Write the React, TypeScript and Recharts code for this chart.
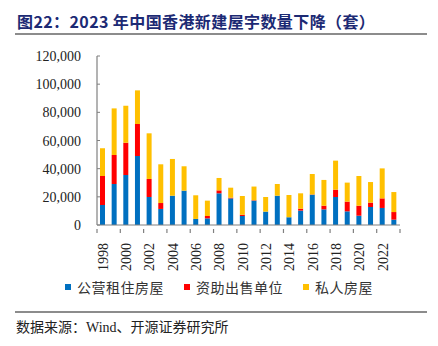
import { BarChart, Bar, XAxis, YAxis } from "recharts";

const years = [
  "1998", "1999", "2000", "2001", "2002", "2003", "2004", "2005", "2006",
  "2007", "2008", "2009", "2010", "2011", "2012", "2013", "2014", "2015",
  "2016", "2017", "2018", "2019", "2020", "2021", "2022", "2023",
];

// 公营租住房屋
const publicRental = [
  14200, 29100, 35500, 49000, 19900, 11400, 20800, 24400, 4300,
  4700, 22500, 18900, 6400, 17300, 9500, 20800, 5500, 10200,
  21500, 11100, 19900, 9700, 6600, 12800, 12100, 3800,
];

// 资助出售单位
const subsidised = [
  20600, 20600, 22900, 22700, 12800, 4200, 0, 0, 0,
  1700, 2100, 500, 900, 300, 0, 0, 0, 1400,
  200, 2600, 5200, 6900, 7100, 3100, 6800, 5400,
];

// 私人房屋
const privateHousing = [
  19700, 33100, 26300, 23900, 32400, 27500, 26100, 17300, 16800,
  10900, 8800, 7100, 13300, 9700, 10400, 8300, 15800, 10900,
  14500, 18300, 20600, 13500, 21100, 14600, 21300, 14200,
];

const yTicks = [0, 20000, 40000, 60000, 80000, 100000, 120000];

const data = years.map((y, i) => ({
  year: y,
  publicRental: publicRental[i],
  subsidised: subsidised[i],
  privateHousing: privateHousing[i],
}));

const AXIS = "#808080";
const BAND = 303 / years.length;
const serif = "'Liberation Serif', 'Times New Roman', serif";
const cjk = "'Noto Sans CJK SC', sans-serif";

const legendItems = [
  { label: "公营租住房屋", color: "#0070C0" },
  { label: "资助出售单位", color: "#FF0000" },
  { label: "私人房屋", color: "#FFC000" },
];

function YTick(props: any) {
  const { x, y, payload } = props;
  return (
    <g>
      <line x1={x + 16} x2={x + 19} y1={y} y2={y} stroke={AXIS} strokeWidth={1} />
      <text x={x} y={y} dy={5} textAnchor="end" fill="#222" fontSize={14} fontFamily={serif}>
        {Number(payload.value).toLocaleString("en-US")}
      </text>
    </g>
  );
}

function XTick(props: any) {
  const { x, y, payload } = props;
  const left = x - BAND / 2;
  const isLast = payload.value === "2022";
  return (
    <g>
      <line x1={left} x2={left} y1={y} y2={y - 4} stroke={AXIS} strokeWidth={1.2} />
      {isLast && (
        <line x1={left + BAND * 2} x2={left + BAND * 2} y1={y} y2={y - 4} stroke={AXIS} strokeWidth={1.2} />
      )}
      <text
        x={x}
        y={y + 10}
        dy={5}
        textAnchor="end"
        fill="#222"
        fontSize={14}
        fontFamily={serif}
        transform={`rotate(-90 ${x} ${y + 10})`}
      >
        {payload.value}
      </text>
    </g>
  );
}

export default function App() {
  return (
    <div style={{ position: "absolute", left: 0, top: 0, width: 438, height: 346, background: "#fff" }}>
      <div
        style={{
          position: "absolute",
          left: 17,
          top: 9,
          fontFamily: cjk,
          fontWeight: 700,
          fontSize: 16,
          color: "#1c2a74",
          whiteSpace: "nowrap",
          letterSpacing: 0.4,
        }}
      >
        图22：2023 年中国香港新建屋宇数量下降（套）
      </div>
      <div style={{ position: "absolute", left: 15, top: 33, width: 412, height: 1.5, background: "#8c8c8c" }} />

      <div style={{ position: "absolute", left: 0, top: 0 }}>
        <BarChart
          width={438}
          height={300}
          data={data}
          margin={{ top: 56, right: 38, left: 0, bottom: 35 }}
          barSize={5}
        >
          <XAxis
            dataKey="year"
            interval={1}
            tick={<XTick />}
            tickLine={false}
            axisLine={{ stroke: AXIS, strokeWidth: 1.2 }}
            height={40}
          />
          <YAxis
            domain={[0, 120000]}
            ticks={yTicks}
            tick={<YTick />}
            tickLine={false}
            tickSize={8}
            tickMargin={8}
            axisLine={{ stroke: AXIS, strokeWidth: 1.2 }}
            width={97}
          />
          <Bar dataKey="publicRental" stackId="a" fill="#0070C0" isAnimationActive={false} />
          <Bar dataKey="subsidised" stackId="a" fill="#FF0000" isAnimationActive={false} />
          <Bar dataKey="privateHousing" stackId="a" fill="#FFC000" isAnimationActive={false} />
        </BarChart>
      </div>

      <div
        style={{
          position: "absolute",
          left: 0,
          top: 277,
          width: 438,
          display: "flex",
          justifyContent: "center",
          fontFamily: cjk,
          fontSize: 14,
          color: "#333",
        }}
      >
        {legendItems.map((it, i) => (
          <div key={it.label} style={{ display: "flex", alignItems: "center", marginLeft: i === 0 ? 0 : 20 }}>
            <span style={{ display: "inline-block", width: 6, height: 6, background: it.color, marginRight: 6 }} />
            <span style={{ letterSpacing: 0.5 }}>{it.label}</span>
          </div>
        ))}
      </div>

      <div style={{ position: "absolute", left: 15, top: 311, width: 412, height: 1.5, background: "#8c8c8c" }} />
      <div
        style={{
          position: "absolute",
          left: 16,
          top: 316,
          fontFamily: cjk,
          fontSize: 14,
          color: "#222",
          whiteSpace: "nowrap",
        }}
      >
        数据来源：<span style={{ fontFamily: serif }}>Wind</span>、开源证券研究所
      </div>
    </div>
  );
}
